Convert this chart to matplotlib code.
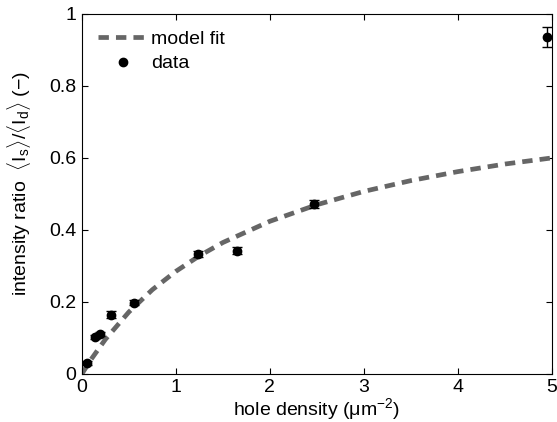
import matplotlib
matplotlib.use("Agg")
import matplotlib.pyplot as plt
from matplotlib.lines import Line2D

plt.rcParams['font.family'] = ['Liberation Sans', 'DejaVu Sans']
plt.rcParams['mathtext.fontset'] = 'custom'
plt.rcParams['mathtext.rm'] = 'Liberation Sans'
plt.rcParams['mathtext.it'] = 'Liberation Sans'

# measured data
density = [0.053, 0.14, 0.19, 0.31, 0.55, 1.23, 1.65, 2.47, 4.95]
ratio = [0.030, 0.103, 0.111, 0.164, 0.197, 0.333, 0.342, 0.472, 0.936]
ratio_err = [0.005, 0.006, 0.006, 0.010, 0.007, 0.008, 0.010, 0.010, 0.027]

# model fit curve
fit_x = [0, 0.1, 0.25, 0.5, 0.75, 1, 1.25, 1.5, 2, 2.5, 3, 3.5, 4, 4.5, 5]
fit_y = [0, 0.041, 0.096, 0.172, 0.234, 0.285, 0.328, 0.365, 0.424,
         0.470, 0.507, 0.537, 0.562, 0.583, 0.600]

fig = plt.figure(figsize=(5.57, 4.22), dpi=100)
ax = fig.add_axes([0.147, 0.114, 0.844, 0.853])

fit_line, = ax.plot(fit_x, fit_y, '--', color='#666666', linewidth=3.4,
                    dashes=(2.2, 1.5))
ax.errorbar(density, ratio, yerr=ratio_err, fmt='o', color='black',
            markersize=6, capsize=3.5, elinewidth=1, capthick=1)

ax.set_xlim(0, 5)
ax.set_ylim(0, 1)
ax.set_xticks([0, 1, 2, 3, 4, 5])
ax.set_yticks([0, 0.2, 0.4, 0.6, 0.8, 1])
ax.set_yticklabels(['0', '0.2', '0.4', '0.6', '0.8', '1'])
ax.tick_params(direction='in', top=True, right=True, labelsize=14, length=4)
ax.tick_params(axis='x', pad=3.5)
ax.tick_params(axis='y', pad=4)

ax.set_xlabel(r'hole density (μm$^{\mathregular{-2}}$)', fontsize=14, labelpad=0)
ax.set_ylabel(r'intensity ratio  $\langle \mathregular{I_s}\rangle / \langle \mathregular{I_d}\rangle$ (−)',
              fontsize=14)
ax.yaxis.set_label_coords(-0.105, 0.53)

data_handle = Line2D([], [], linestyle='none', marker='o', color='black', markersize=6)
ax.legend([fit_line, data_handle], ['model fit', 'data'], loc='upper left',
          frameon=False, fontsize=14, handlelength=2.5, borderaxespad=0.45,
          handletextpad=0.2, labelspacing=0.35)

fig.savefig('out.png', dpi=100)
